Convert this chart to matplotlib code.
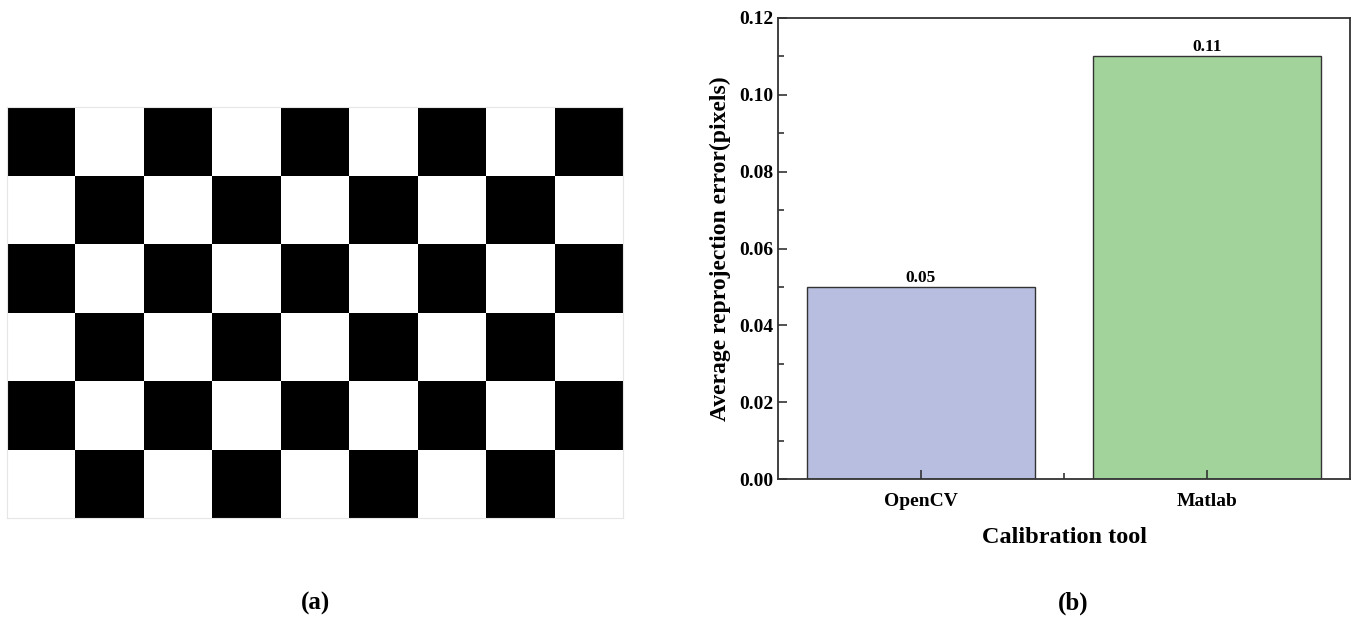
import matplotlib.pyplot as plt
import numpy as np

# data
tools = ["OpenCV", "Matlab"]
errors = [0.05, 0.11]
bar_colors = ["#b8bedf", "#a1d39b"]
value_labels = ["0.05", "0.11"]

# checkerboard (1 = black), 6 rows x 9 columns
board = [
    [1, 0, 1, 0, 1, 0, 1, 0, 1],
    [0, 1, 0, 1, 0, 1, 0, 1, 0],
    [1, 0, 1, 0, 1, 0, 1, 0, 1],
    [0, 1, 0, 1, 0, 1, 0, 1, 0],
    [1, 0, 1, 0, 1, 0, 1, 0, 1],
    [0, 1, 0, 1, 0, 1, 0, 1, 0],
]

plt.rcParams['font.family'] = ['Liberation Serif', 'DejaVu Serif']
plt.rcParams['font.weight'] = 'bold'

fig = plt.figure(figsize=(13.58, 6.19), dpi=100)

# (a) CHECKERBOARD
axa = fig.add_axes([7/1358, 101/619, 616/1358, 411/619])
axa.pcolormesh(np.array(board), cmap="gray_r", vmin=0, vmax=1)
axa.set_xlim(0, 9)
axa.set_ylim(6, 0)
axa.set_xticks([])
axa.set_yticks([])
for s in axa.spines.values():
    s.set_color("#e6e6e6")
    s.set_linewidth(0.8)

# (b) BAR CHART
axb = fig.add_axes([778/1358, 140/619, 572/1358, 461/619])
x = np.arange(len(tools))
axb.bar(x, errors, width=0.8, color=bar_colors, edgecolor="#333333", linewidth=1.0)
for xi, v, t in zip(x, errors, value_labels):
    axb.text(xi, v + 0.0003, t, ha="center", va="bottom", fontsize=12.5, fontweight="bold")

axb.set_xlim(-0.5, 1.5)
axb.set_ylim(0, 0.12)
axb.set_yticks(np.arange(0, 0.121, 0.02))
axb.set_yticks(np.arange(0.01, 0.12, 0.02), minor=True)
axb.set_yticklabels([f"{v:.2f}" for v in np.arange(0, 0.121, 0.02)])
axb.set_xticks(x)
axb.set_xticks([0.5], minor=True)
axb.set_xticklabels(tools)
axb.tick_params(which="major", direction="in", length=6.5, width=1.2, labelsize=14, color="#333333")
axb.tick_params(which="minor", direction="in", length=4, width=1.2, color="#333333")
axb.tick_params(axis="x", which="major", pad=10)
for lab in axb.get_xticklabels() + axb.get_yticklabels():
    lab.set_fontweight("bold")
for s in axb.spines.values():
    s.set_color("#333333")
    s.set_linewidth(1.3)

axb.set_xlabel("Calibration tool", fontsize=17.5, fontweight="bold", labelpad=12)
axb.set_ylabel("Average reprojection error(pixels)", fontsize=17, fontweight="bold", labelpad=6)

fig.text(316/1358, 1 - 603/619, "(a)", ha="center", va="center", fontsize=18, fontweight="bold")
fig.text(1073/1358, 1 - 603/619, "(b)", ha="center", va="center", fontsize=18, fontweight="bold")

plt.savefig("out.png", dpi=100)
